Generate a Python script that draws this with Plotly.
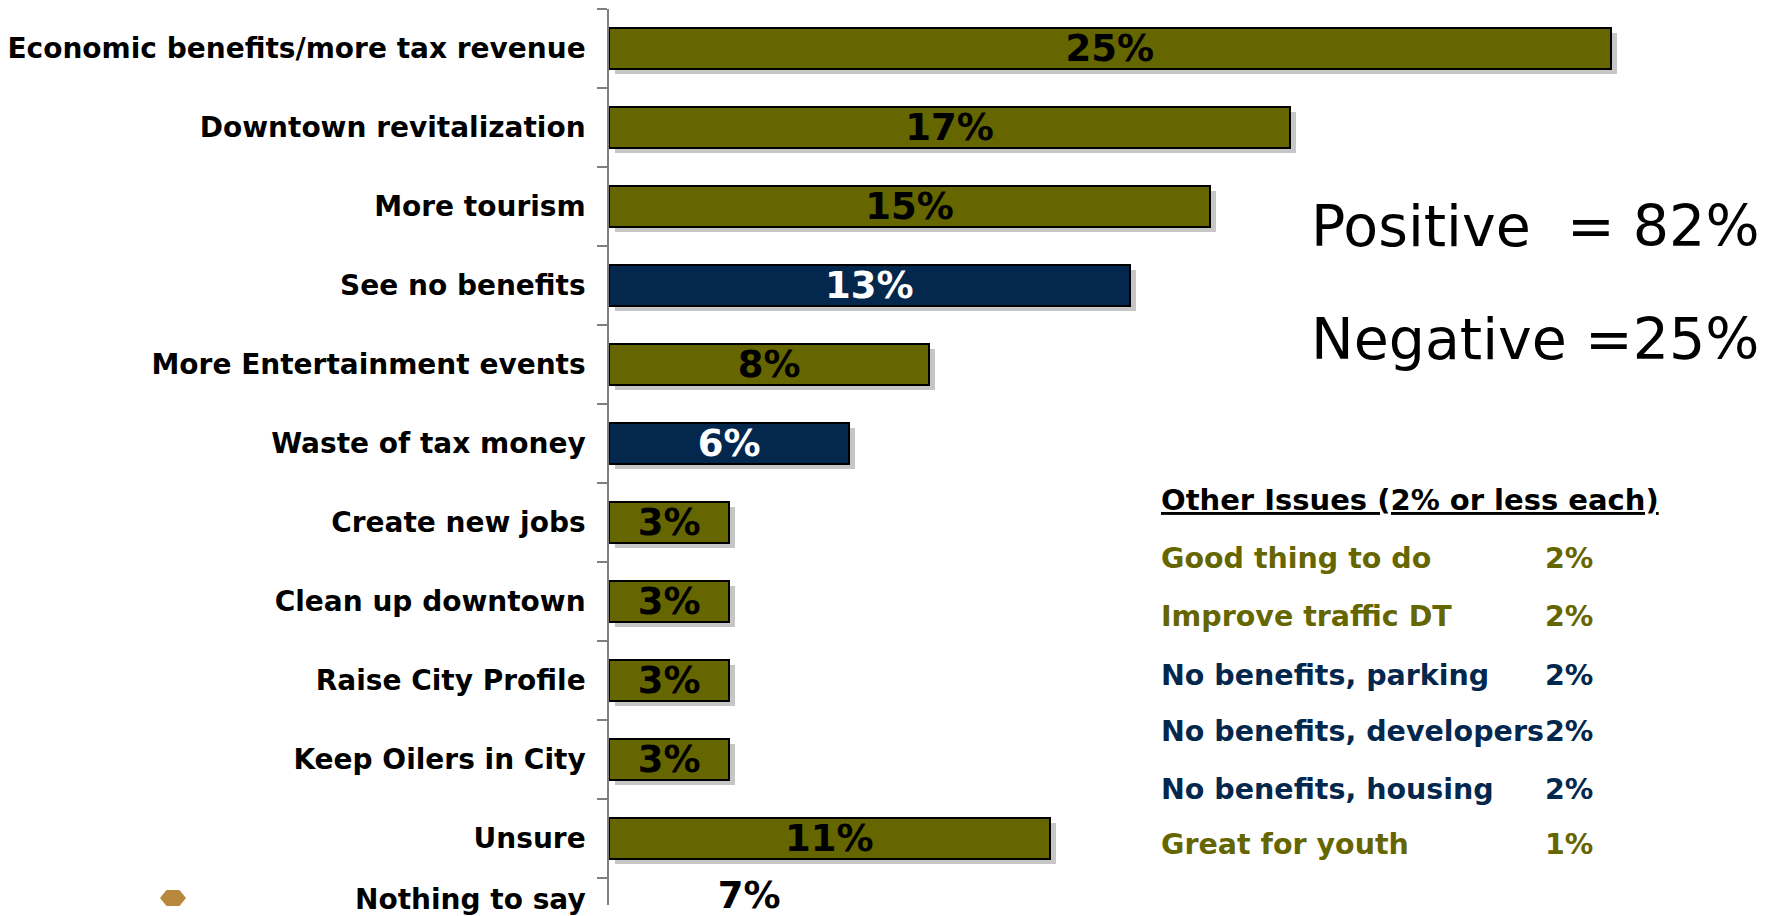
import plotly.graph_objects as go

# ---- data ----
categories = [
    "Economic benefits/more tax revenue",
    "Downtown revitalization",
    "More tourism",
    "See no benefits",
    "More Entertainment events",
    "Waste of tax money",
    "Create new jobs",
    "Clean up downtown",
    "Raise City Profile",
    "Keep Oilers in City",
    "Unsure",
    "Nothing to say",
]
values = [25, 17, 15, 13, 8, 6, 3, 3, 3, 3, 11, 7]
sentiment = ["pos", "pos", "pos", "neg", "pos", "neg", "pos", "pos", "pos", "pos", "pos", "none"]

other_issues = [
    "Good thing to do",
    "Improve traffic DT",
    "No benefits, parking",
    "No benefits, developers",
    "No benefits, housing",
    "Great for youth",
]
other_values = [2, 2, 2, 2, 2, 1]
other_sentiment = ["pos", "pos", "neg", "neg", "neg", "pos"]

positive_total = 82
negative_total = 25

# ---- styling ----
W, H = 1770, 916
OLIVE = "#666600"
NAVY = "#03274d"
SHADOW = "#c6c6c6"
AXIS_GREY = "#7f7f7f"
FONT = "DejaVu Sans"
fill_for = {"pos": OLIVE, "neg": NAVY, "none": "rgba(0,0,0,0)"}
label_color_for = {"pos": "black", "neg": "white", "none": "black"}
side_color_for = {"pos": OLIVE, "neg": NAVY}

PX_PER_UNIT = 40.06   # horizontal scale of the bars
ROW_PX = 79.0         # height of one category row
AXIS_LEFT = 609
AXIS_TOP = 9
AXIS_BOTTOM = 905
XMAX = 28.8
SHADOW_DX, SHADOW_DY = 6, 5
BAR_WIDTH = 0.53

# row positions: the last row sits just above the bottom edge of the page
ypos = list(range(len(categories) - 1)) + [10.77]
y_bottom = (AXIS_BOTTOM - AXIS_TOP) / ROW_PX - 0.5

plot_w = XMAX * PX_PER_UNIT

fig = go.Figure()

# drop shadows (drawn first, on an offset subplot)
shadow_idx = [i for i, s in enumerate(sentiment) if s != "none"]
fig.add_trace(go.Bar(
    x=[values[i] for i in shadow_idx],
    y=[ypos[i] for i in shadow_idx],
    orientation="h",
    width=BAR_WIDTH,
    marker=dict(color=SHADOW, line=dict(width=0)),
    xaxis="x", yaxis="y",
    hoverinfo="skip",
    showlegend=False,
))

# main bars
fig.add_trace(go.Bar(
    x=values,
    y=ypos,
    orientation="h",
    width=BAR_WIDTH,
    marker=dict(
        color=[fill_for[s] for s in sentiment],
        line=dict(color=["black" if s != "none" else "rgba(0,0,0,0)" for s in sentiment], width=2),
    ),
    xaxis="x2", yaxis="y2",
    showlegend=False,
))

# value labels centred in the bars
fig.add_trace(go.Scatter(
    x=[v / 2 for v in values],
    y=[p + (0.035 if s != "none" else -0.01) for p, s in zip(ypos, sentiment)],
    mode="text",
    text=[f"{v}%" for v in values],
    textposition="middle center",
    textfont=dict(family=FONT, size=37, weight="bold",
                  color=[label_color_for[s] for s in sentiment]),
    cliponaxis=False,
    xaxis="x2", yaxis="y2",
    hoverinfo="skip",
    showlegend=False,
))

fig.update_layout(
    width=W, height=H,
    margin=dict(l=0, r=0, t=0, b=0, autoexpand=False),
    paper_bgcolor="white",
    plot_bgcolor="rgba(0,0,0,0)",
    bargap=0,
    xaxis=dict(
        domain=[(AXIS_LEFT + SHADOW_DX) / W, (AXIS_LEFT + SHADOW_DX + plot_w) / W],
        range=[0, XMAX], visible=False, anchor="y", automargin=False,
    ),
    yaxis=dict(
        domain=[(H - AXIS_BOTTOM - SHADOW_DY) / H, (H - AXIS_TOP - SHADOW_DY) / H],
        range=[y_bottom, -0.5], visible=False, anchor="x", automargin=False,
    ),
    xaxis2=dict(
        domain=[AXIS_LEFT / W, (AXIS_LEFT + plot_w) / W],
        range=[0, XMAX], visible=False, anchor="y2", automargin=False,
    ),
    yaxis2=dict(
        domain=[(H - AXIS_BOTTOM) / H, (H - AXIS_TOP) / H],
        range=[y_bottom, -0.5],
        anchor="x2",
        automargin=False,
        showline=True, linecolor=AXIS_GREY, linewidth=1.5,
        showgrid=False, zeroline=False,
        tickmode="array", tickvals=ypos, ticktext=categories,
        ticks="outside", ticklen=0,
        ticklabelstandoff=16,
        ticklabeloverflow="allow",
        tickfont=dict(family=FONT, size=28, color="black", weight="bold"),
        minor=dict(ticks="outside", tick0=-0.5, dtick=1, ticklen=10,
                   tickcolor=AXIS_GREY, tickwidth=1.5, showgrid=False),
    ),
)


def px(x, y):
    return x / W, 1 - y / H


annotations = []
# summary totals
for label, total, ycen in [("Positive\u00a0\u00a0= ", positive_total, 226),
                           ("Negative =", negative_total, 339)]:
    ax, ay = px(1309, ycen)
    annotations.append(dict(
        x=ax, y=ay, xref="paper", yref="paper", xanchor="left", yanchor="middle",
        text=f"{label}{total}%", showarrow=False,
        font=dict(family=FONT, size=57, color="black"),
    ))

# other issues list
hx, hy = px(1159, 500)
annotations.append(dict(
    x=hx, y=hy, xref="paper", yref="paper", xanchor="left", yanchor="middle",
    text="Other Issues (2% or less each)", showarrow=False,
    font=dict(family=FONT, size=29, color="black", weight="bold", lineposition="under"),
))
row_y = [558, 616, 675, 731, 789, 844]
for name, val, s, yy in zip(other_issues, other_values, other_sentiment, row_y):
    nx, ny = px(1159, yy)
    vx, _ = px(1543, yy)
    col = side_color_for[s]
    annotations.append(dict(
        x=nx, y=ny, xref="paper", yref="paper", xanchor="left", yanchor="middle",
        text=name, showarrow=False,
        font=dict(family=FONT, size=28.5, color=col, weight="bold"),
    ))
    annotations.append(dict(
        x=vx, y=ny, xref="paper", yref="paper", xanchor="left", yanchor="middle",
        text=f"{val}%", showarrow=False,
        font=dict(family=FONT, size=28.5, color=col, weight="bold"),
    ))

fig.update_layout(annotations=annotations)

# gold hexagon from the corner logo
cx, cy, hw, hh = 173, 898, 13, 8
pts = [(cx - hw, cy), (cx - hw / 2, cy - hh), (cx + hw / 2, cy - hh),
       (cx + hw, cy), (cx + hw / 2, cy + hh), (cx - hw / 2, cy + hh)]
path = "M " + " L ".join(f"{px(a, b)[0]:.5f},{px(a, b)[1]:.5f}" for a, b in pts) + " Z"
fig.add_shape(type="path", path=path, xref="paper", yref="paper",
              fillcolor="#b8893c", line=dict(width=0))

fig.write_html("out.html")
